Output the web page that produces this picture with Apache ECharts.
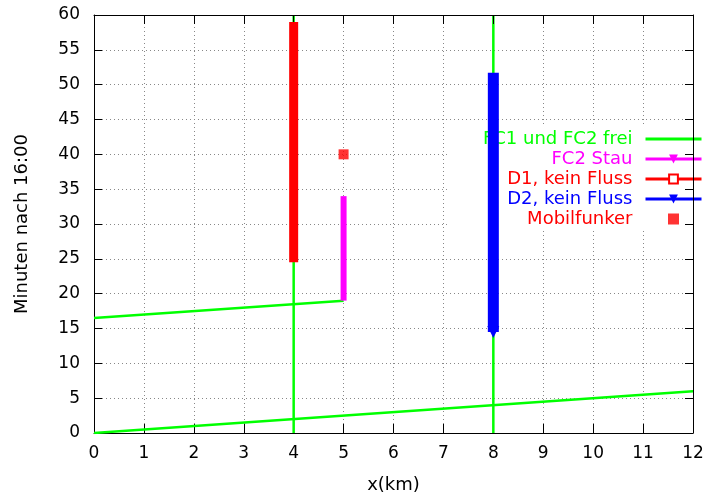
<!DOCTYPE html>
<html>
<head>
<meta charset="utf-8">
<script src="https://cdn.jsdelivr.net/npm/echarts@6/dist/echarts.min.js"></script>
<style>
  html, body { margin: 0; padding: 0; background: #fff; }
  #chart { width: 707px; height: 499px; }
</style>
</head>
<body>
<div id="chart"></div>
<script>
// values (x in km, y in minutes after 16:00)
const freeLow = [[0, 0], [12, 6]];
const freeHigh = [[0, 16.5], [5, 19]];
const freeAt4 = [[4, 0], [4, 60]];
const freeAt8 = [[8, 0], [8, 60]];
const stau = [[5, 19], [5, 34]];
const d1 = [[4, 24.5], [4, 59]];
const d2 = [[8, 14.5], [8, 51.7]];
const mobil = [[5, 40]];

const names = ['FC1 und FC2 frei', 'FC2 Stau', 'D1, kein Fluss', 'D2, kein Fluss', 'Mobilfunker'];
const font = 'DejaVu Sans';

function freeLine(data) {
  return {
    name: names[0],
    type: 'line',
    data: data,
    symbol: 'none',
    lineStyle: { color: '#00ff00', width: 2.5 },
    itemStyle: { color: '#00ff00' },
    z: 2
  };
}

const chart = echarts.init(document.getElementById('chart'));

chart.setOption({
  animation: false,
  backgroundColor: '#fff',
  grid: { left: 94, right: 14, top: 15, bottom: 64 },
  legend: {
    orient: 'vertical',
    align: 'right',
    right: 0,
    top: 127,
    z: 1,
    padding: [3, 4, 3, 36],
    backgroundColor: '#fff',
    itemWidth: 56,
    itemHeight: 11,
    itemGap: 2,
    selectedMode: false,
    lineStyle: { width: 3 },
    textStyle: { fontFamily: font, fontSize: 18, lineHeight: 18, padding: [0, 8, 0, 0] },
    data: [
      { name: names[0], itemStyle: { opacity: 0 }, textStyle: { color: '#00ff00' } },
      { name: names[1], textStyle: { color: '#ff00ff' } },
      { name: names[2], textStyle: { color: '#ff0000' } },
      { name: names[3], textStyle: { color: '#0000ff' } },
      { name: names[4], icon: 'path://M0,0H10V10H0Z', textStyle: { color: '#ff0000' } }
    ]
  },
  xAxis: [
    {
      type: 'value',
      position: 'bottom',
      min: 0, max: 12, interval: 1,
      name: 'x(km)',
      nameLocation: 'middle',
      nameGap: 43,
      nameTextStyle: { fontFamily: font, fontSize: 18, color: '#000' },
      axisLine: { show: true, onZero: false, lineStyle: { color: '#000', width: 1 } },
      axisTick: { show: true, inside: true, length: 9, lineStyle: { color: '#000' } },
      axisLabel: { fontFamily: font, fontSize: 17, color: '#000', margin: 12 },
      splitLine: { show: true, lineStyle: { color: '#888', type: [1, 3], width: 1 } }
    },
    {
      type: 'value',
      position: 'top',
      min: 0, max: 12, interval: 1,
      z: 3,
      axisLine: { show: true, onZero: false, lineStyle: { color: '#000', width: 1 } },
      axisTick: { show: true, inside: true, length: 9, lineStyle: { color: '#000' } },
      axisLabel: { show: false },
      splitLine: { show: false }
    }
  ],
  yAxis: [
    {
      type: 'value',
      position: 'left',
      min: 0, max: 60, interval: 5,
      name: 'Minuten nach 16:00',
      nameLocation: 'middle',
      nameGap: 63,
      nameTextStyle: { fontFamily: font, fontSize: 18, color: '#000' },
      axisLine: { show: true, onZero: false, lineStyle: { color: '#000', width: 1 } },
      axisTick: { show: true, inside: true, length: 8, lineStyle: { color: '#000' } },
      axisLabel: { fontFamily: font, fontSize: 17, color: '#000', margin: 14 },
      splitLine: { show: true, lineStyle: { color: '#888', type: [1, 3], width: 1 } }
    },
    {
      type: 'value',
      position: 'right',
      min: 0, max: 60, interval: 5,
      z: 3,
      axisLine: { show: true, onZero: false, lineStyle: { color: '#000', width: 1 } },
      axisTick: { show: true, inside: true, length: 8, lineStyle: { color: '#000' } },
      axisLabel: { show: false },
      splitLine: { show: false }
    }
  ],
  series: [
    freeLine(freeLow),
    freeLine(freeHigh),
    freeLine(freeAt4),
    freeLine(freeAt8),
    {
      name: names[1],
      type: 'line',
      data: stau,
      symbol: 'triangle',
      symbolRotate: 180,
      showSymbol: false,
      lineStyle: { color: '#ff00ff', width: 6 },
      itemStyle: { color: '#ff00ff' },
      z: 3
    },
    {
      name: names[2],
      type: 'line',
      data: d1,
      symbol: 'emptyRect',
      showSymbol: false,
      lineStyle: { color: '#ff0000', width: 9 },
      itemStyle: { color: '#ff0000' },
      z: 3
    },
    {
      name: names[3],
      type: 'line',
      // only the lower end carries the downward triangle
      data: d2.map((p, i) => (i === 0 ? { value: p } : { value: p, symbolSize: 0 })),
      symbol: 'triangle',
      symbolRotate: 180,
      symbolSize: 12,
      lineStyle: { color: '#0000ff', width: 11 },
      itemStyle: { color: '#0000ff' },
      z: 3
    },
    {
      name: names[4],
      type: 'scatter',
      data: mobil,
      symbol: 'rect',
      symbolSize: 10,
      itemStyle: { color: '#ff0000' },
      z: 3
    }
  ]
});
</script>
</body>
</html>
